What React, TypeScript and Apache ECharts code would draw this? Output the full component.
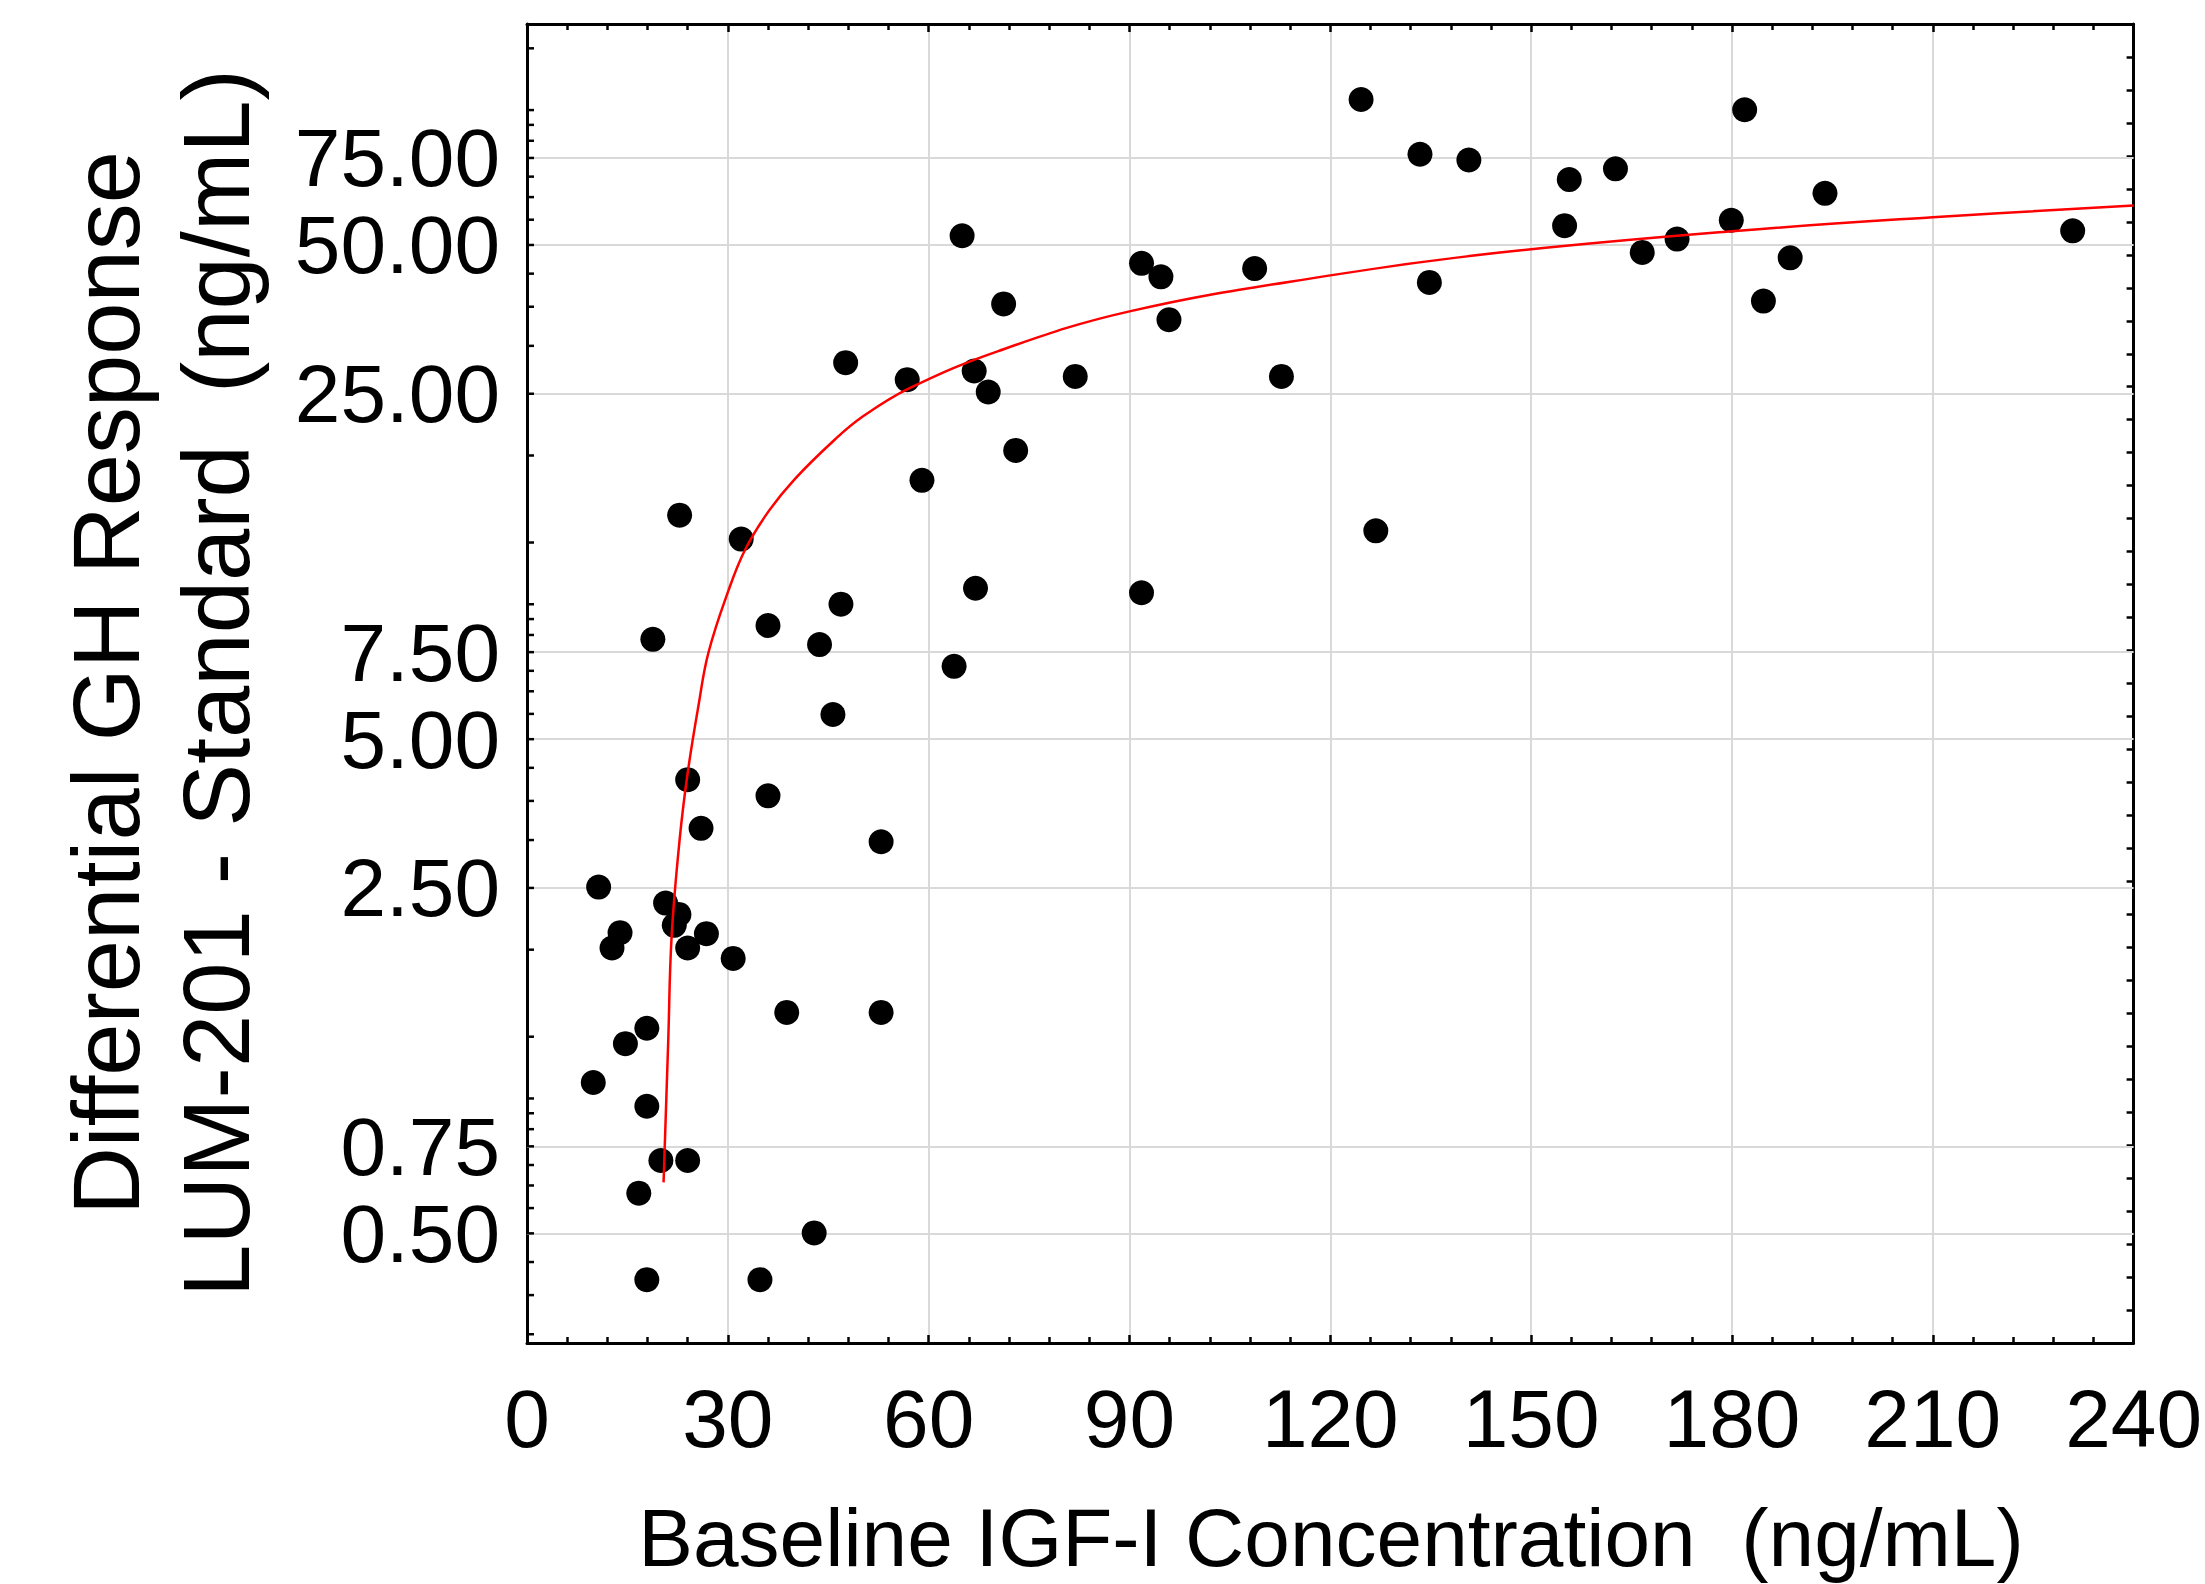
import React, { useEffect, useRef } from "react";
import * as echarts from "echarts";

const FONT = '"Liberation Sans", Arial, Helvetica, sans-serif';

// Titles
const xTitle = "Baseline IGF-I Concentration  (ng/mL)";
const yTitleLine1 = "Differential GH Response";
const yTitleLine2 = "LUM-201 - Standard  (ng/mL)";

// Axes
const xMin = 0;
const xMax = 240;
const xStep = 30;
const yMin = 0.3;
const yMax = 140;
const yLabelTicks = [0.5, 0.75, 2.5, 5, 7.5, 25, 50, 75];
const yTickMarks = [
  0.3125, 0.375, 0.4375, 0.5, 0.5625, 0.625, 0.6875, 0.75, 0.8125, 0.875, 0.9375,
  1.25, 1.875, 2.5, 3.125, 3.75, 4.375, 5, 5.625, 6.25, 6.875, 7.5, 8.125, 8.75, 9.375,
  12.5, 18.75, 25, 31.25, 37.5, 43.75, 50, 56.25, 62.5, 68.75, 75, 81.25, 87.5, 93.75,
  125,
];
const rightTickDivisions = 40;

// Scatter data: baseline IGF-I (x) and differential GH response (y)
const igfX = [
  22.8, 32.0, 18.8, 36.0, 46.9, 43.7, 59.0, 73.0, 67.0, 63.8, 45.7, 24.0, 36.0, 26.0, 52.9,
  10.7, 20.7, 22.7, 22.0, 13.9, 12.7, 26.8, 24.0, 30.8, 38.8, 52.9, 17.9, 14.7, 9.9, 17.9,
  20.0, 24.0, 16.7, 42.9, 17.9, 34.8,
  71.2, 68.9, 81.9, 91.8, 94.7, 95.9, 108.7, 112.7, 134.8, 126.8, 91.8,
  181.9, 155.7, 162.6, 155.0, 166.6, 171.8, 179.9, 193.9, 188.7, 184.7, 230.9,
  124.6, 133.4, 140.7, 65.0, 47.6, 56.8, 66.8,
];
const ghY = [
  14.2, 12.7, 7.96, 8.49, 9.38, 7.77, 16.7, 19.2, 10.1, 7.02, 5.61, 4.14, 3.84, 3.30, 3.10,
  2.51, 2.33, 2.21, 2.10, 2.03, 1.89, 2.02, 1.89, 1.80, 1.40, 1.40, 1.30, 1.21, 1.01, 0.904,
  0.702, 0.702, 0.603, 0.501, 0.403, 0.403,
  38.0, 25.2, 27.1, 45.9, 43.1, 35.3, 44.8, 27.1, 42.0, 13.2, 9.89,
  93.9, 67.8, 71.3, 54.7, 48.3, 51.4, 56.1, 63.6, 47.1, 38.5, 53.4,
  98.5, 76.3, 74.3, 52.2, 28.9, 26.7, 27.8,
];

// Fitted curve
const fitX = [20.4, 21.1, 21.6, 22.8, 24.0, 25.6, 27.1, 30.1, 32.6, 36.0, 40.0, 46.0, 50.0, 57.0, 70.4, 90.0, 120.0, 145.0, 180.0, 210.0, 240.0];
const fitY = [0.634, 1.23, 1.99, 3.13, 4.27, 5.83, 7.48, 10.0, 12.1, 14.4, 16.8, 20.2, 22.4, 25.6, 30.5, 36.7, 43.4, 48.2, 53.3, 56.9, 60.1];

export default function App() {
  const ref = useRef<HTMLDivElement>(null);

  useEffect(() => {
    if (!ref.current) return;
    const chart = echarts.init(ref.current, undefined, { renderer: "svg" });

    const frameLine = { color: "#000", width: 3 };
    const tickLine = { color: "#000", width: 2.5 };

    const option: any = {
      animation: false,
      backgroundColor: "#ffffff",
      textStyle: { fontFamily: FONT },
      grid: { left: 527, top: 24, width: 1612, height: 1319, containLabel: false },
      xAxis: [
        {
          type: "value",
          position: "bottom",
          min: xMin,
          max: xMax,
          interval: xStep,
          axisLine: { show: true, onZero: false, lineStyle: frameLine },
          axisTick: { show: true, inside: true, length: 8, lineStyle: tickLine },
          minorTick: { show: true, splitNumber: 5, length: 6, lineStyle: tickLine },
          axisLabel: { show: true, margin: 34, color: "#000", fontSize: 82, fontFamily: FONT },
          splitLine: { show: true, lineStyle: { color: "#d9d9d9", width: 2 } },
          minorSplitLine: { show: false },
        },
        {
          type: "value",
          position: "top",
          min: xMin,
          max: xMax,
          interval: xStep,
          axisLine: { show: true, onZero: false, lineStyle: frameLine },
          axisTick: { show: true, inside: true, length: 8, lineStyle: tickLine },
          minorTick: { show: true, splitNumber: 5, length: 6, lineStyle: tickLine },
          axisLabel: { show: false },
          splitLine: { show: false },
        },
      ],
      yAxis: [
        {
          type: "log",
          logBase: 10,
          position: "left",
          min: yMin,
          max: yMax,
          axisLine: { show: true, onZero: false, lineStyle: frameLine },
          axisTick: { show: false },
          minorTick: { show: false },
          axisLabel: { show: false },
          splitLine: { show: false },
        },
        {
          type: "value",
          position: "right",
          min: 0,
          max: rightTickDivisions,
          interval: 1,
          axisLine: { show: true, onZero: false, lineStyle: frameLine },
          axisTick: { show: true, inside: true, length: 7, lineStyle: tickLine },
          axisLabel: { show: false },
          splitLine: { show: false },
        },
      ],
      series: [
        {
          name: "Response",
          type: "scatter",
          xAxisIndex: 0,
          yAxisIndex: 0,
          data: igfX.map((x, i) => [x, ghY[i]]),
          symbol: "circle",
          symbolSize: 25,
          itemStyle: { color: "#000000", opacity: 1 },
          silent: true,
          z: 3,
          markLine: {
            z: 1,
            silent: true,
            symbol: ["none", "none"],
            animation: false,
            emphasis: { disabled: true },
            lineStyle: { color: "#d9d9d9", width: 2, type: "solid", opacity: 1 },
            label: {
              show: true,
              position: "start",
              distance: 27,
              color: "#000",
              fontSize: 82,
              fontFamily: FONT,
              formatter: (p: any) => Number(p.value).toFixed(2),
            },
            data: yLabelTicks.map((v) => ({ yAxis: v })),
          },
        },
        {
          name: "Ticks",
          type: "scatter",
          xAxisIndex: 0,
          yAxisIndex: 0,
          data: yTickMarks.map((v) => [xMin, v]),
          symbol: "rect",
          symbolSize: [7, 2.5],
          symbolOffset: [3.5, 0],
          itemStyle: { color: "#000000", opacity: 1 },
          silent: true,
          clip: false,
          z: 6,
        },
        {
          name: "Fit",
          type: "line",
          xAxisIndex: 0,
          yAxisIndex: 0,
          data: fitX.map((x, i) => [x, fitY[i]]),
          smooth: 0.4,
          showSymbol: false,
          symbol: "none",
          lineStyle: { color: "#ff0000", width: 2.5, opacity: 1 },
          silent: true,
          z: 4,
        },
      ],
      graphic: [
        {
          type: "text",
          x: 1331,
          y: 1537,
          silent: true,
          style: {
            text: xTitle,
            fontSize: 82,
            fontFamily: FONT,
            fill: "#000",
            align: "center",
            verticalAlign: "middle",
            textAlign: "center",
            textVerticalAlign: "middle",
          },
        },
        {
          type: "text",
          x: 106,
          y: 683,
          rotation: Math.PI / 2,
          silent: true,
          style: {
            text: yTitleLine1,
            fontSize: 94,
            fontFamily: FONT,
            fill: "#000",
            align: "center",
            verticalAlign: "middle",
            textAlign: "center",
            textVerticalAlign: "middle",
          },
        },
        {
          type: "text",
          x: 216,
          y: 683,
          rotation: Math.PI / 2,
          silent: true,
          style: {
            text: yTitleLine2,
            fontSize: 94,
            fontFamily: FONT,
            fill: "#000",
            align: "center",
            verticalAlign: "middle",
            textAlign: "center",
            textVerticalAlign: "middle",
          },
        },
      ],
    };

    chart.setOption(option);
    return () => {
      chart.dispose();
    };
  }, []);

  return (
    <div
      ref={ref}
      style={{ position: "fixed", left: 0, top: 0, width: "2205px", height: "1584px", background: "#fff" }}
    />
  );
}
